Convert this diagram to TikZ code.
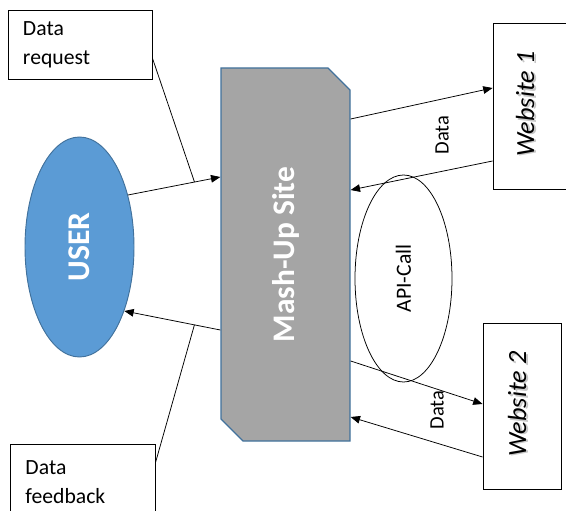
\documentclass[tikz,border=0pt]{standalone}
\usepackage{fontspec}
\setmainfont{Carlito}
\usepackage{graphicx}
\usepackage{xcolor}
\usetikzlibrary{arrows.meta, shapes.misc, shapes.geometric, calc}

\definecolor{userblue}{HTML}{5B9BD5}
\definecolor{edgeblue}{HTML}{41719C}
\definecolor{mashgray}{HTML}{A5A5A5}

\tikzset{
    notebox/.style={draw, line width=0.65pt, align=left, text width=3.42cm, inner sep=0pt,
        font=\fontsize{18.5}{24.7}\selectfont},
    webbox/.style={draw, line width=0.75pt, minimum height=4.98cm, inner sep=0pt},
    webtext/.style={rotate=90, font=\fontsize{22.4}{26}\selectfont\itshape},
    webshade/.style={webtext, text=black!22},
    datatext/.style={rotate=90, font=\fontsize{17.5}{20}\selectfont},
    flow/.style={-{Triangle[length=8pt,width=6.5pt]}, line width=0.65pt},
}

\begin{document}
\begin{tikzpicture}[x=0.03cm, y=-0.03cm]

        \path[use as bounding box] (0,0) rectangle (566,511);
        \clip (0,0) rectangle (566,511);

        % user and mash-up site
        \node[ellipse, draw=edgeblue, line width=0.8pt, fill=userblue, text=white, inner sep=0pt,
            minimum width=3.27cm, minimum height=6.6cm, font=\fontsize{27}{30}\selectfont\bfseries]
            (user) at (79.5,247) {\rotatebox{90}{USER}};
        \node[chamfered rectangle, chamfered rectangle corners={north east, south west},
            chamfered rectangle sep=0.33cm, draw=edgeblue, line width=1.1pt, fill=mashgray,
            text=white, inner sep=0pt, minimum width=3.87cm, minimum height=11.19cm,
            font=\fontsize{26.8}{30}\selectfont\bfseries]
            (mash) at (285.5,254.5) {\rotatebox{90}{Mash-Up Site}};

        % notes
        \node[notebox, minimum width=4.32cm, minimum height=2.07cm] (req) at (80,44.5) {Data\\request};
        \node[notebox, minimum width=4.35cm, minimum height=2.28cm] (fb) at (82.5,482) {Data\\feedback};

        % api call
        \node[ellipse, draw, line width=0.65pt, inner sep=0pt, minimum width=2.91cm, minimum height=6.21cm,
            font=\fontsize{18.5}{20}\selectfont] (api) at (403.5,278.5) {\rotatebox{90}{API-Call}};

        % websites
        \node[webbox, minimum width=2.46cm] (w1) at (534,106) {};
        \node[webbox, minimum width=2.34cm] (w2) at (522,406) {};
        \node[webshade] (w1s) at (527,105.5) {Website 1};
        \node[webtext] (w1t) at (525,104) {Website 1};
        \node[webshade] (w2s) at (519,405.5) {Website 2};
        \node[webtext] (w2t) at (517,404) {Website 2};

        \node[datatext] (d1) at (442,135) {Data};
        \node[datatext] (d2) at (437,410) {Data};

        % connectors
        \draw[flow] (user.47) -- coordinate[pos=0.72] (reqpt) ($(mash.west)+(0,-77.5)$);
        \draw[flow] ($(mash.west)+(0,75.5)$) -- coordinate[pos=0.27] (fbpt) (user.-55);
        \draw[line width=0.65pt] ($(req.east)+(0,13.5)$) -- (reqpt);
        \draw[line width=0.65pt] ($(fb.east)+(0,-19)$) -- (fbpt);

        \draw[flow] ($(mash.east)+(0,-135.5)$) -- ($(w1.west)+(0,-18)$);
        \draw[flow] ($(w1.west)+(0,55)$) -- ($(mash.east)+(0,-64.5)$);
        \draw[flow] ($(mash.east)+(0,106.5)$) -- ($(w2.west)+(0,-2)$);
        \draw[flow] ($(w2.west)+(0,51)$) -- ($(mash.east)+(0,162.5)$);

\end{tikzpicture}
\end{document}
